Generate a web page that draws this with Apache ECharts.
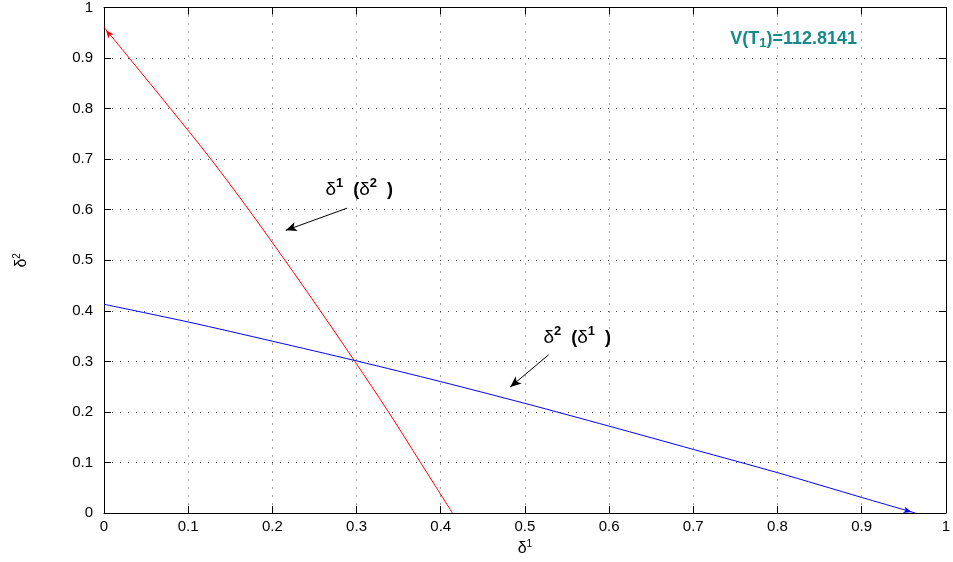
<!DOCTYPE html>
<html>
<head>
<meta charset="utf-8">
<script src="https://cdn.jsdelivr.net/npm/echarts@6/dist/echarts.min.js"></script>
<style>html,body{margin:0;padding:0;background:#fff}#c{width:953px;height:562px}</style>
</head>
<body>
<div id="c"></div>
<script>
// Tick values
const tickValues = [0, 0.1, 0.2, 0.3, 0.4, 0.5, 0.6, 0.7, 0.8, 0.9, 1];

// Red curve: delta1 as a function of delta2
const redD2 = [0.961, 0.9, 0.8, 0.7, 0.6, 0.5, 0.4, 0.3, 0.2, 0.1, 0];
const redD1 = [0, 0.030, 0.079, 0.127, 0.172, 0.215, 0.257, 0.298, 0.338, 0.376, 0.414];

// Blue curve: delta2 as a function of delta1
const blueD1 = [0, 0.1, 0.2, 0.3, 0.4, 0.5, 0.6, 0.7, 0.8, 0.9, 0.964];
const blueD2 = [0.413, 0.378, 0.340, 0.301, 0.260, 0.217, 0.172, 0.126, 0.080, 0.031, 0];

// Annotations (data coordinates)
const arrow1 = [[0.2886, 0.603], [0.2159, 0.5592]];
const arrow2 = [[0.5282, 0.3131], [0.4826, 0.2494]];
const label1Pos = [0.263, 0.6426];
const label2Pos = [0.522, 0.3496];
const valuePos = [0.744, 0.9355];
const valueText = '112.8141';

const FONT = 'Liberation Sans';

const redData = redD1.map((x, i) => {
  const p = { value: [x, redD2[i]] };
  if (i === 0) { p.symbol = 'arrow'; p.symbolSize = [5, 8]; p.symbolRotate = 39; p.symbolOffset = [2, 3]; }
  return p;
});
const blueData = blueD1.map((x, i) => {
  const p = { value: [x, blueD2[i]] };
  if (i === blueD1.length - 1) { p.symbol = 'arrow'; p.symbolSize = [5, 8]; p.symbolRotate = -106; p.symbolOffset = [-4, -1]; }
  return p;
});

const supRich = {
  d: { fontFamily: FONT, fontSize: 19, color: '#000', fontWeight: 'normal', lineHeight: 22, verticalAlign: 'bottom' },
  b: { fontFamily: FONT, fontSize: 18, color: '#000', fontWeight: 'bold', lineHeight: 22, verticalAlign: 'bottom' },
  s: { fontFamily: FONT, fontSize: 13, color: '#000', fontWeight: 'bold', lineHeight: 15, verticalAlign: 'top' }
};

const chart = echarts.init(document.getElementById('c'), null, { renderer: 'canvas' });

const axisCommon = {
  type: 'value', min: 0, max: 1, interval: 0.1,
  axisLine: { show: true, onZero: false, lineStyle: { color: '#000', width: 1 } },
  axisTick: { show: true, inside: true, length: 7, lineStyle: { color: '#000' } },
  minorTick: { show: false },
};

chart.setOption({
  animation: false,
  backgroundColor: '#fff',
  grid: { left: 104, right: 6, top: 5, bottom: 45, containLabel: false },
  xAxis: [
    Object.assign({}, axisCommon, {
      position: 'bottom',
      axisLabel: { color: '#000', fontFamily: FONT, fontSize: 15, margin: 6 },
      splitLine: { show: true, lineStyle: { color: '#444', type: [1, 7], width: 1 } },
      name: '{d|δ}{s|1}', nameLocation: 'middle', nameGap: 24,
      nameTextStyle: { rich: { d: { fontFamily: FONT, fontSize: 16, color: '#000', lineHeight: 18, verticalAlign: 'bottom' }, s: { fontFamily: FONT, fontSize: 10, color: '#000', lineHeight: 12, verticalAlign: 'top' } } }
    }),
    Object.assign({}, axisCommon, {
      position: 'top',
      axisLabel: { show: false },
      splitLine: { show: false }
    })
  ],
  yAxis: [
    Object.assign({}, axisCommon, {
      position: 'left',
      axisLabel: { color: '#000', fontFamily: FONT, fontSize: 15, margin: 11 },
      splitLine: { show: true, lineStyle: { color: '#444', type: [1, 7], width: 1 } },
      name: '{d|δ}{s|2}', nameLocation: 'middle', nameGap: 74, nameRotate: 90,
      nameTextStyle: { rich: { d: { fontFamily: FONT, fontSize: 16, color: '#000', lineHeight: 18, verticalAlign: 'bottom' }, s: { fontFamily: FONT, fontSize: 10, color: '#000', lineHeight: 12, verticalAlign: 'top' } } }
    }),
    Object.assign({}, axisCommon, {
      position: 'right',
      axisLabel: { show: false },
      splitLine: { show: false }
    })
  ],
  series: [
    {
      type: 'line', name: 'red', data: redData, xAxisIndex: 0, yAxisIndex: 0,
      symbol: 'none', showSymbol: true, smooth: 0.3,
      lineStyle: { color: '#ff0000', width: 1 },
      itemStyle: { color: '#ff0000' },
      silent: true, z: 3
    },
    {
      type: 'line', name: 'blue', data: blueData, xAxisIndex: 0, yAxisIndex: 0,
      symbol: 'none', showSymbol: true, smooth: 0.3,
      lineStyle: { color: '#0000ff', width: 1 },
      itemStyle: { color: '#0000ff' },
      silent: true, z: 3,
      markLine: {
        silent: true, animation: false,
        symbol: ['none', 'arrow'], symbolSize: [7, 11],
        lineStyle: { color: '#000', width: 1, type: 'solid' },
        itemStyle: { color: '#000' },
        label: { show: false },
        data: [
          [{ coord: arrow1[0] }, { coord: arrow1[1] }],
          [{ coord: arrow2[0] }, { coord: arrow2[1] }]
        ]
      },
      markPoint: {
        silent: true, animation: false,
        symbol: 'circle', symbolSize: 0,
        data: [
          { coord: label1Pos, label: { show: true, position: 'right', distance: 0, formatter: '{d|δ}{s|1}{b|  (}{d|δ}{s|2}{b|  )}', rich: supRich } },
          { coord: label2Pos, label: { show: true, position: 'right', distance: 0, formatter: '{d|δ}{s|2}{b|  (}{d|δ}{s|1}{b|  )}', rich: supRich } },
          { coord: valuePos, label: { show: true, position: 'right', distance: 0,
              formatter: '{v|V(T}{sub|1}{v|)=' + valueText + '}',
              rich: {
                v: { fontFamily: FONT, fontSize: 18, fontWeight: 'bold', color: '#168a8a', lineHeight: 20, verticalAlign: 'top' },
                sub: { fontFamily: FONT, fontSize: 13, fontWeight: 'bold', color: '#168a8a', lineHeight: 14, verticalAlign: 'bottom', padding: [9, 0, 0, 0] }
              } } }
        ]
      }
    }
  ]
});
</script>
</body>
</html>
